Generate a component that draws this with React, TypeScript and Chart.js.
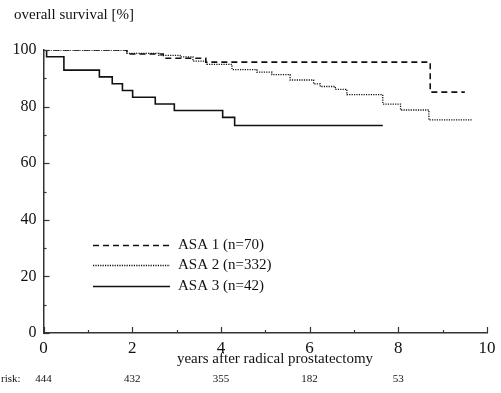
import React, { useEffect, useRef } from "react";
import { Chart, registerables } from "chart.js";

Chart.register(...registerables);

// Kaplan–Meier steps: times (years) and survival (%)
const asa1Times = [0, 1.88, 2.7, 3.66, 8.72, 9.5];
const asa1Values = [100, 98.6, 97.1, 95.7, 85.1, 85.1];

const asa2Times = [0, 1.88, 2.6, 3.08, 3.37, 3.68, 4.25, 4.81, 5.15, 5.56, 6.09, 6.24, 6.58, 6.84, 7.65, 8.05, 8.69, 9.66];
const asa2Values = [100, 98.8, 98.1, 97.6, 96.1, 94.9, 93.1, 92.2, 91.3, 89.4, 88.0, 87.1, 86.1, 84.2, 80.9, 78.8, 75.3, 75.3];

const asa3Times = [0, 0.07, 0.46, 1.26, 1.55, 1.78, 2.01, 2.52, 2.95, 4.04, 4.31, 7.65];
const asa3Values = [100, 97.6, 92.9, 90.5, 88.1, 85.7, 83.3, 80.9, 78.6, 76.2, 73.3, 73.3];

const seriesLabels = ["ASA 1 (n=70)", "ASA 2 (n=332)", "ASA 3 (n=42)"];

const riskYears = [0, 2, 4, 6, 8];
const riskCounts = [444, 432, 355, 182, 53];

const yTitle = "overall survival [%]";
const xTitle = "years after radical prostatectomy";
const riskLabel = "risk:";

const SERIF = "'Liberation Serif', 'DejaVu Serif', serif";
const INK = "#111";

const toPoints = (t: number[], v: number[]) => t.map((x, i) => ({ x, y: v[i] }));

export default function App() {
  const ref = useRef<HTMLCanvasElement | null>(null);

  useEffect(() => {
    if (!ref.current) return;
    const dashes = [[6, 4], [1.2, 1.2], []];
    const widths = [1.6, 1.3, 1.6];

    const extras = {
      id: "extras",
      afterDraw(chart: any) {
        const ctx = chart.ctx;
        const xs = chart.scales.x;
        const ys = chart.scales.y;
        const area = chart.chartArea;
        ctx.save();
        // inward tick marks
        ctx.strokeStyle = "#333";
        ctx.lineWidth = 1.2;
        for (let v = 0; v <= 100; v += 10) {
          const y = Math.round(ys.getPixelForValue(v)) + 0.5;
          const len = v % 20 === 0 ? 6 : 3;
          ctx.beginPath();
          ctx.moveTo(area.left, y);
          ctx.lineTo(area.left + len, y);
          ctx.stroke();
        }
        for (let v = 0; v <= 10; v += 1) {
          const x = Math.round(xs.getPixelForValue(v)) + 0.5;
          const len = v % 2 === 0 ? 6 : 3;
          ctx.beginPath();
          ctx.moveTo(x, area.bottom);
          ctx.lineTo(x, area.bottom - len);
          ctx.stroke();
        }
        // titles
        ctx.fillStyle = INK;
        ctx.font = `15px ${SERIF}`;
        ctx.textBaseline = "middle";
        ctx.textAlign = "left";
        ctx.fillText(yTitle, 14, 15);
        ctx.textAlign = "center";
        ctx.fillText(xTitle, 275, 359);
        // risk row
        ctx.font = `11px ${SERIF}`;
        ctx.textAlign = "left";
        ctx.fillText(riskLabel, 1, 379);
        ctx.textAlign = "center";
        riskYears.forEach((yr, i) => {
          ctx.fillText(String(riskCounts[i]), xs.getPixelForValue(yr), 379);
        });
        // legend
        const rows = [245, 265, 286];
        chart.data.datasets.forEach((ds: any, i: number) => {
          const y = rows[i] + 0.5;
          ctx.strokeStyle = INK;
          ctx.lineWidth = widths[i];
          ctx.setLineDash(dashes[i]);
          ctx.beginPath();
          ctx.moveTo(93, y);
          ctx.lineTo(170, y);
          ctx.stroke();
          ctx.setLineDash([]);
          ctx.font = `15px ${SERIF}`;
          ctx.textAlign = "left";
          ctx.fillStyle = INK;
          ctx.fillText(ds.label, 178, rows[i]);
        });
        ctx.restore();
      },
    };

    const chart = new Chart(ref.current, {
      type: "line",
      data: {
        datasets: [
          { label: seriesLabels[0], data: toPoints(asa1Times, asa1Values) },
          { label: seriesLabels[1], data: toPoints(asa2Times, asa2Values) },
          { label: seriesLabels[2], data: toPoints(asa3Times, asa3Values) },
        ].map((d, i) => ({
          ...d,
          stepped: "before" as const,
          borderColor: INK,
          borderWidth: widths[i],
          borderDash: dashes[i],
          pointRadius: 0,
          fill: false,
          tension: 0,
        })),
      },
      options: {
        responsive: false,
        animation: false,
        devicePixelRatio: 1,
        layout: { padding: { left: 0, right: 14, top: 50, bottom: 0 } },
        plugins: { legend: { display: false }, tooltip: { enabled: false }, title: { display: false } },
        scales: {
          x: {
            type: "linear",
            min: 0,
            max: 10,
            afterFit: (s: any) => {
              s.height = 60;
            },
            ticks: {
              stepSize: 2,
              color: INK,
              font: { family: SERIF, size: 17 },
              padding: 5,
              maxRotation: 0,
            },
            grid: { display: true, drawOnChartArea: false, drawTicks: false },
            border: { display: true, color: "#333", width: 1.5 },
          },
          y: {
            type: "linear",
            min: 0,
            max: 100,
            afterFit: (s: any) => {
              s.width = 43.5;
            },
            ticks: {
              stepSize: 20,
              color: INK,
              font: { family: SERIF, size: 16 },
              padding: 7,
            },
            grid: { display: true, drawOnChartArea: false, drawTicks: false },
            border: { display: true, color: "#333", width: 1.5 },
          },
        },
      },
      plugins: [extras],
    });
    return () => chart.destroy();
  }, []);

  return (
    <div style={{ position: "fixed", left: 0, top: 0, width: 501, height: 393, background: "#fff" }}>
      <canvas ref={ref} width={501} height={393} style={{ width: 501, height: 393, display: "block" }} />
    </div>
  );
}
